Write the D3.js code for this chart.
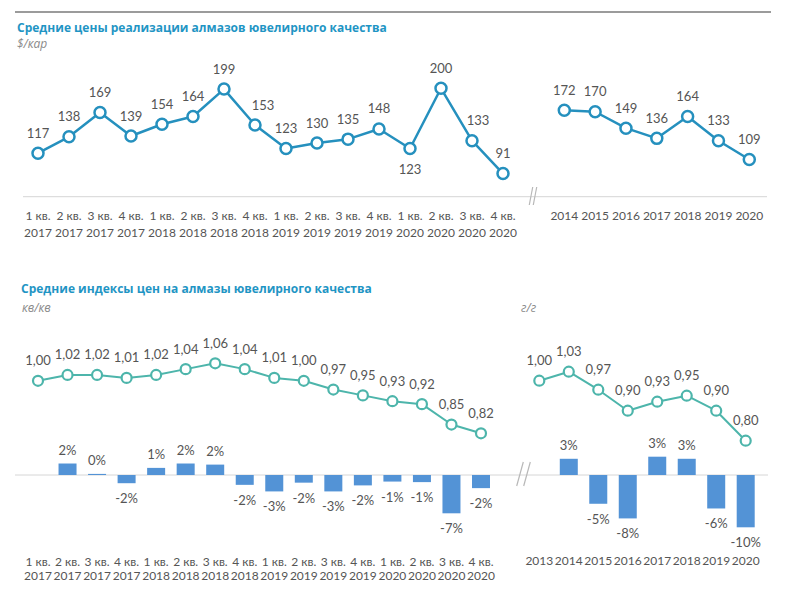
<!DOCTYPE html>
<html>
<head>
<meta charset="utf-8">
<script src="https://cdn.jsdelivr.net/npm/d3@7"></script>
<style>
  html, body { margin: 0; padding: 0; background: #fff; }
  svg { display: block; }
  .ttl { font-family: "Open Sans", sans-serif; font-weight: 700; font-size: 12px; fill: #1f95c4; }
  .sub { font-family: "Open Sans", sans-serif; font-style: italic; font-size: 12px; fill: #8a8a8a; }
  .cat { font-family: Lato, sans-serif; font-size: 12px; fill: #555; }
  .val { font-family: Lato, sans-serif; font-size: 13px; fill: #555; }
</style>
</head>
<body>
<svg id="chart" width="800" height="595"></svg>
<script>
// ---------- data ----------
const quarterNames = ["1 кв.","2 кв.","3 кв.","4 кв.","1 кв.","2 кв.","3 кв.","4 кв.","1 кв.","2 кв.","3 кв.","4 кв.","1 кв.","2 кв.","3 кв.","4 кв."];
const quarterYears = ["2017","2017","2017","2017","2018","2018","2018","2018","2019","2019","2019","2019","2020","2020","2020","2020"];
const priceQuarterly = [117,138,169,139,154,164,199,153,123,130,135,148,123,200,133,91];
const priceYears = ["2014","2015","2016","2017","2018","2019","2020"];
const priceAnnual = [172,170,149,136,164,133,109];

const indexQuarterly = [1.00,1.02,1.02,1.01,1.02,1.04,1.06,1.04,1.01,1.00,0.97,0.95,0.93,0.92,0.85,0.82];
const changeQuarterly = [null,2.1,0.2,-1.5,1.3,2.1,1.9,-1.8,-3.0,-1.4,-3.0,-1.9,-1.2,-1.3,-7.0,-2.4];
const changeQuarterlyLabels = [null,"2%","0%","-2%","1%","2%","2%","-2%","-3%","-2%","-3%","-2%","-1%","-1%","-7%","-2%"];
const indexYears = ["2013","2014","2015","2016","2017","2018","2019","2020"];
const indexAnnual = [1.00,1.03,0.97,0.90,0.93,0.95,0.90,0.80];
const changeAnnual = [null,3.1,-5.5,-8.3,3.5,3.1,-6.4,-10.0];
const changeAnnualLabels = [null,"3%","-5%","-8%","3%","3%","-6%","-10%"];

const title1 = "Средние цены реализации алмазов ювелирного качества";
const unit1 = "$/кар";
const title2 = "Средние индексы цен на алмазы ювелирного качества";
const unit2a = "кв/кв";
const unit2b = "г/г";

// ---------- styles ----------
const C_PRICE = "#2590be";
const C_INDEX = "#4db5ab";
const C_BAR = "#5393d6";
const C_AXIS = "#d6d6d6";
const C_BREAK = "#b8b8b8";

const svg = d3.select("#chart");
const fmtIdx = d => d.toFixed(2).replace(".", ",");

// top rule
svg.append("line").attr("x1", 15).attr("x2", 771).attr("y1", 12).attr("y2", 12)
  .attr("stroke", "#7a7a7a").attr("stroke-width", 1.5);

// titles
svg.append("text").attr("class", "ttl").attr("x", 17).attr("y", 32).text(title1);
svg.append("text").attr("class", "sub").attr("x", 17).attr("y", 48).text(unit1);
svg.append("text").attr("class", "ttl").attr("x", 21).attr("y", 293).text(title2);
svg.append("text").attr("class", "sub").attr("x", 22).attr("y", 312).text(unit2a);
svg.append("text").attr("class", "sub").attr("x", 521).attr("y", 312).text(unit2b);

function breakMarks(xs, yTop, yBot, dx) {
  xs.forEach(x => {
    svg.append("line").attr("x1", x - dx).attr("y1", yBot).attr("x2", x + dx).attr("y2", yTop)
      .attr("stroke", C_BREAK).attr("stroke-width", 1.2);
  });
}

// ---------- top: prices ----------
const yTop = d3.scaleLinear().domain([61.4, 200]).range([196.7, 88.3]);
const xTL = d3.scalePoint().domain(d3.range(priceQuarterly.length)).range([38, 503]);
const xTR = d3.scalePoint().domain(priceYears).range([564.3, 749.3]);

svg.append("line").attr("x1", 23).attr("x2", 767).attr("y1", 196.7).attr("y2", 196.7)
  .attr("stroke", C_AXIS).attr("stroke-width", 1);
breakMarks([531, 535], 187, 205, 1.7);

function drawLine(data, xf, yf, color, r, sw, lw) {
  const g = svg.append("g");
  g.append("path").datum(data)
    .attr("fill", "none").attr("stroke", color).attr("stroke-width", lw)
    .attr("stroke-linejoin", "round")
    .attr("d", d3.line().x(d => xf(d.k)).y(d => yf(d.v)));
  g.selectAll("circle").data(data).join("circle")
    .attr("cx", d => xf(d.k)).attr("cy", d => yf(d.v)).attr("r", r)
    .attr("fill", "#fff").attr("stroke", color).attr("stroke-width", sw);
  return g;
}

const tlData = priceQuarterly.map((v, i) => ({k: i, v}));
drawLine(tlData, xTL, yTop, C_PRICE, 5.5, 2.5, 2.5);
const belowTop = new Set([12]);
const shiftTop = {7: 8, 14: 6};
svg.append("g").selectAll("text").data(tlData).join("text")
  .attr("class", "val").attr("text-anchor", "middle")
  .attr("x", d => xTL(d.k) + (shiftTop[d.k] || 0))
  .attr("y", d => belowTop.has(d.k) ? yTop(d.v) + 25.5 : yTop(d.v) - 15.5)
  .text(d => d.v);

const trData = priceAnnual.map((v, i) => ({k: priceYears[i], v}));
drawLine(trData, xTR, yTop, C_PRICE, 5.5, 2.5, 2.5);
svg.append("g").selectAll("text").data(trData).join("text")
  .attr("class", "val").attr("text-anchor", "middle")
  .attr("x", d => xTR(d.k)).attr("y", d => yTop(d.v) - 15.5)
  .text(d => d.v);

// top category labels
const tCat = svg.append("g");
quarterNames.forEach((q, i) => {
  tCat.append("text").attr("class", "cat").attr("text-anchor", "middle")
    .attr("x", xTL(i)).attr("y", 219.5).text(q);
  tCat.append("text").attr("class", "cat").attr("text-anchor", "middle")
    .attr("x", xTL(i)).attr("y", 236.5).text(quarterYears[i]);
});
priceYears.forEach(y => {
  tCat.append("text").attr("class", "cat").attr("text-anchor", "middle")
    .attr("x", xTR(y)).attr("y", 219.5).text(y);
});

// ---------- bottom: indices ----------
const xBL = d3.scalePoint().domain(d3.range(indexQuarterly.length)).range([38, 481]);
const xBR = d3.scalePoint().domain(indexYears).range([539.3, 745.7]);
const yIdxL = d3.scaleLinear().domain([0.82, 1.06]).range([433.3, 363.3]);
const yIdxR = d3.scaleLinear().domain([0.80, 1.03]).range([440.7, 371.7]);
const yBarL = d3.scaleLinear().domain([-7, 0]).range([513.3, 475]);
const yBarR = d3.scaleLinear().domain([-10, 0]).range([527.3, 475]);
const barW = 18;

// baseline
svg.append("line").attr("x1", 15).attr("x2", 768).attr("y1", 475).attr("y2", 475)
  .attr("stroke", C_AXIS).attr("stroke-width", 1);
breakMarks([520, 527], 462, 486, 3.3);

function drawBars(vals, labels, xf, keys, yf) {
  const data = vals.map((v, i) => ({k: keys[i], v, l: labels[i]})).filter(d => d.v !== null);
  const g = svg.append("g");
  g.selectAll("rect").data(data).join("rect")
    .attr("x", d => xf(d.k) - barW / 2)
    .attr("y", d => Math.min(yf(d.v), yf(0)))
    .attr("width", barW)
    .attr("height", d => Math.abs(yf(d.v) - yf(0)))
    .attr("fill", C_BAR);
  g.selectAll("text").data(data).join("text")
    .attr("class", "val").attr("text-anchor", "middle")
    .attr("x", d => xf(d.k))
    .attr("y", d => d.v >= 0 ? yf(d.v) - 8.5 : yf(d.v) + 20)
    .text(d => d.l);
}

drawBars(changeQuarterly, changeQuarterlyLabels, xBL, d3.range(indexQuarterly.length), yBarL);
drawBars(changeAnnual, changeAnnualLabels, xBR, indexYears, yBarR);

const blData = indexQuarterly.map((v, i) => ({k: i, v}));
drawLine(blData, xBL, yIdxL, C_INDEX, 5, 2.2, 2);
svg.append("g").selectAll("text").data(blData).join("text")
  .attr("class", "val").attr("text-anchor", "middle")
  .attr("x", d => xBL(d.k)).attr("y", d => yIdxL(d.v) - 15.5)
  .text(d => fmtIdx(d.v));

const brData = indexAnnual.map((v, i) => ({k: indexYears[i], v}));
drawLine(brData, xBR, yIdxR, C_INDEX, 5, 2.2, 2);
svg.append("g").selectAll("text").data(brData).join("text")
  .attr("class", "val").attr("text-anchor", "middle")
  .attr("x", d => xBR(d.k)).attr("y", d => yIdxR(d.v) - 15.5)
  .text(d => fmtIdx(d.v));

const bCat = svg.append("g");
quarterNames.forEach((q, i) => {
  bCat.append("text").attr("class", "cat").attr("text-anchor", "middle")
    .attr("x", xBL(i)).attr("y", 565.5).text(q);
  bCat.append("text").attr("class", "cat").attr("text-anchor", "middle")
    .attr("x", xBL(i)).attr("y", 580).text(quarterYears[i]);
});
indexYears.forEach(y => {
  bCat.append("text").attr("class", "cat").attr("text-anchor", "middle")
    .attr("x", xBR(y)).attr("y", 565).text(y);
});
</script>
</body>
</html>
